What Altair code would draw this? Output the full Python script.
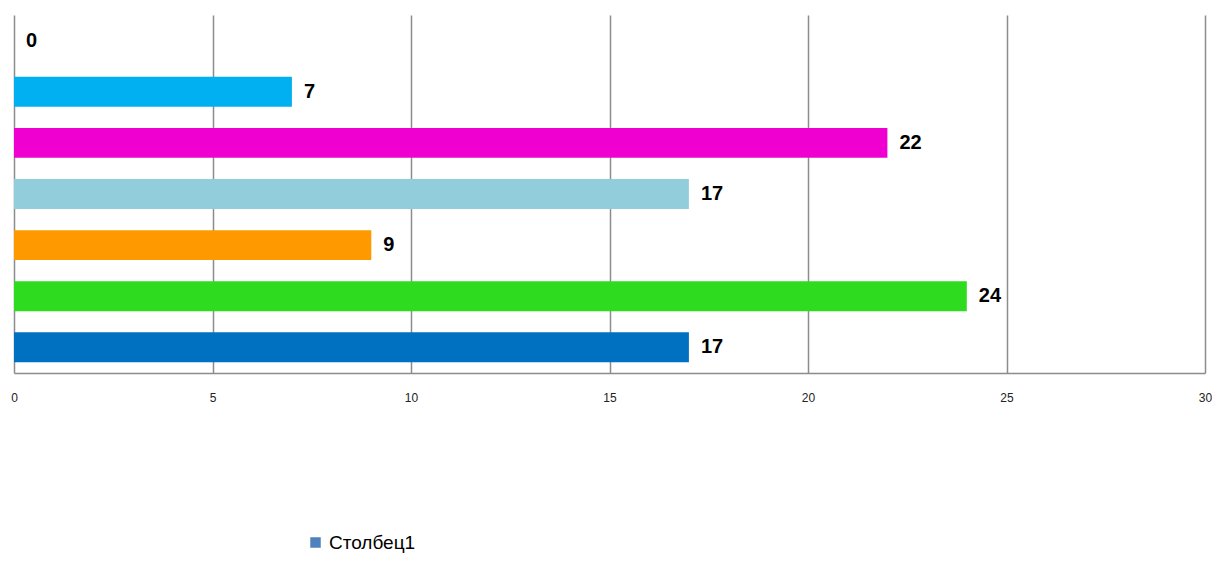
import altair as alt
import pandas as pd

categories = ["Категория 1", "Категория 2", "Категория 3", "Категория 4",
              "Категория 5", "Категория 6", "Категория 7"]
values = [0, 7, 22, 17, 9, 24, 17]
bar_colors = ["#B4A7E5", "#00B0F0", "#F000D0", "#92CDDC", "#FF9900", "#2EDB1E", "#0070C0"]
series_name = "Столбец1"
series_color = "#4F81BD"
x_ticks = [0, 5, 10, 15, 20, 25, 30]

df = pd.DataFrame({"cat": categories, "value": values, "series": series_name})

y_enc = alt.Y("cat:N", sort=categories, axis=None,
              scale=alt.Scale(paddingInner=0.414, paddingOuter=0.21))
x_enc = alt.X("value:Q",
              scale=alt.Scale(domain=[0, 30], nice=False, zero=True),
              axis=alt.Axis(values=x_ticks, title=None, grid=True, gridColor="#8c8c8c",
                            gridWidth=1.5, domainColor="#8c8c8c", domainWidth=1.5,
                            ticks=False, labelPadding=19, labelFontSize=12,
                            labelFont="Liberation Sans", labelColor="#222222",
                            labelFlush=False))

bars = alt.Chart(df).mark_bar().encode(
    x=x_enc,
    y=y_enc,
    fill=alt.Fill("cat:N", scale=alt.Scale(domain=categories, range=bar_colors), legend=None),
)

labels = alt.Chart(df).mark_text(
    align="left", baseline="middle", dx=12, fontSize=20, fontWeight="bold",
    font="Liberation Sans", color="#000000"
).encode(x="value:Q", y=alt.Y("cat:N", sort=categories), text="value:Q")

legend_layer = alt.Chart(df.head(1)).mark_point(opacity=0, filled=True).encode(
    x="value:Q",
    y=alt.Y("cat:N", sort=categories),
    color=alt.Color("series:N", scale=alt.Scale(domain=[series_name], range=[series_color]),
                    legend=alt.Legend(title=None, orient="none", legendX=292, legendY=518,
                                      symbolType="square", symbolSize=110, symbolOpacity=1,
                                      labelFontSize=19, labelFont="Liberation Sans",
                                      labelColor="#000000", symbolStrokeWidth=0)),
)

chart = alt.layer(bars, labels, legend_layer).properties(
    width=1191, height=358,
    autosize=alt.AutoSizeParams(type="none"),
    padding={"left": 6, "top": 7, "right": 7, "bottom": 180},
).configure_view(stroke=None).configure_axis(gridCap="butt")

chart.save("out.html", embed_options={"renderer": "svg", "actions": False})
